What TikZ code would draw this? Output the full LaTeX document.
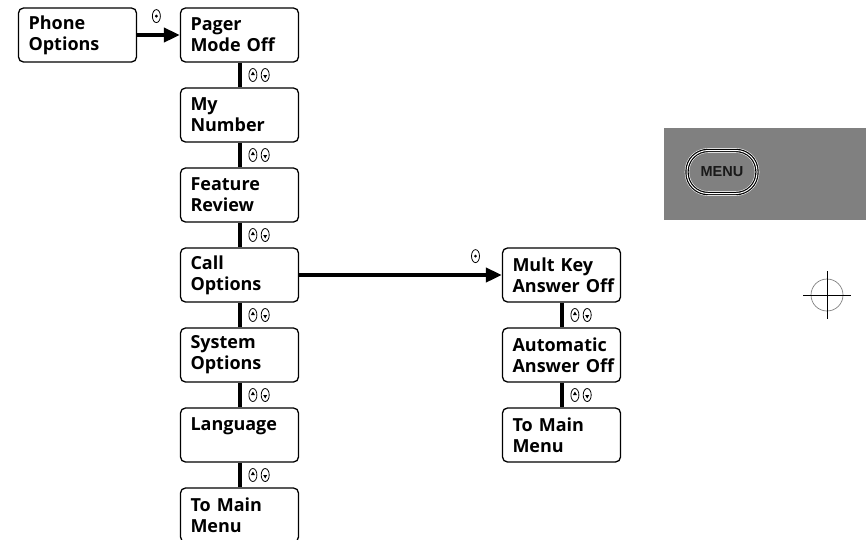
\documentclass[tikz,border=0pt]{standalone}
\usepackage{fontspec}
\setmainfont{Open Sans}
\newfontfamily\keyfont{Liberation Sans}
\usetikzlibrary{positioning,arrows.meta,shapes.geometric}
\definecolor{panelgray}{RGB}{128,128,128}

\begin{document}
\begin{tikzpicture}[
  x=1pt, y=-1pt,
  font=\fontsize{18}{21}\selectfont\bfseries,
  item/.style={draw, line width=1.3pt, rounded corners=5pt, align=left, text width=98pt,
               inner xsep=10pt, inner ysep=0pt, minimum height=54pt},
  link/.style={line width=4pt},
  go/.style={line width=4pt, -{Triangle[length=16pt, width=14pt]}},
  key/.style={draw, ellipse, line width=0.8pt, inner sep=0pt, minimum width=8pt, minimum height=13pt},
  keysel/.style={key, path picture={\fill (path picture bounding box.center) circle (1.6pt);}},
  keyup/.style={key, path picture={\fill ([shift={(0pt,3.5pt)}]path picture bounding box.center)
                 -- ++(-2pt,-3.5pt) -- ++(4pt,0pt) -- cycle;}},
  keydn/.style={key, path picture={\fill ([shift={(0pt,-3.5pt)}]path picture bounding box.center)
                 -- ++(-2pt,3.5pt) -- ++(4pt,0pt) -- cycle;}},
  panel/.style={fill=panelgray, minimum width=202pt, minimum height=92pt, inner sep=0pt},
  menukey/.style={draw=black, line width=1.2pt, double=white, double distance=1pt,
                  preaction={draw=white, line width=4.6pt},
                  rounded corners=21pt, minimum width=70pt, minimum height=43pt,
                  text=black!90, font=\keyfont\fontsize{14.5}{14.5}\selectfont\bfseries},
  node distance=24.7pt and 42.7pt]
\useasboundingbox (0,0) rectangle (866,539);
% main list
\node[item] (pm) at (239.5,35) {Pager\\Mode~Off};
\node[item, left=of pm] (po) {Phone\\Options};
\node[item, below=of pm] (mn) {My\\Number};
\node[item, below=of mn] (fr) {Feature\\Review};
\node[item, below=of fr] (co) {Call\\Options};
\node[item, below=of co] (so) {System\\Options};
\node[item, below=of so] (la) {Language\\\mbox{}};
\node[item, below=of la] (tm) {To~Main\\Menu};
% call options submenu
\node[item, right=202.7pt of co] (mk) {Mult~Key\\Answer~Off};
\node[item, below=of mk] (aa) {Automatic\\Answer~Off};
\node[item, below=of aa] (tr) {To~Main\\Menu};
\draw[go] (po) -- node[keysel, pos=0.45, above=12pt] (s1) {} (pm);
\draw[go] (co) -- node[keysel, pos=0.87, above=12pt] (s2) {} (mk);
\foreach \a/\b [count=\i] in {pm/mn, mn/fr, fr/co, co/so, so/la, la/tm, mk/aa, aa/tr}
  \draw[link] (\a) -- (\b) node[keyup, midway, right=9pt] (u\i) {}
                           node[keydn, right=3.5pt of u\i] (d\i) {};
% menu key panel
\node[panel] (pn) at (765,174) {};
\node[menukey] (mu) at (722,172) {MENU};
% register mark
\coordinate (rg) at (827,295);
\draw[gray, line width=0.7pt] (rg) circle (16);
\draw[line width=0.8pt] (rg) +(-24,0) -- +(24,0) (rg) +(0,-24) -- +(0,24);
\end{tikzpicture}
\end{document}
